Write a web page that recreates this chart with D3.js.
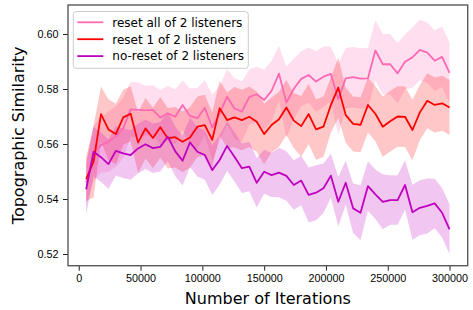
<!DOCTYPE html>
<html>
<head>
<meta charset="utf-8">
<script src="https://cdn.jsdelivr.net/npm/d3@7"></script>
<style>
  body { margin: 0; background: #fff; }
  svg { display: block; font-family: "DejaVu Sans", sans-serif; }
  .axis text { font-size: 10.8px; fill: #000; }
  .axis line { stroke: #222; }
</style>
</head>
<body>
<svg id="chart"></svg>
<script>
// iterations (x)
const iterations = [6000, 12000, 18000, 24000, 30000, 36000, 42000, 48000, 54000, 60000,
  66000, 72000, 78000, 84000, 90000, 96000, 102000, 108000, 114000, 120000,
  126000, 132000, 138000, 144000, 150000, 156000, 162000, 168000, 174000, 180000,
  186000, 192000, 198000, 204000, 210000, 216000, 222000, 228000, 234000, 240000,
  246000, 252000, 258000, 264000, 270000, 276000, 282000, 288000, 294000, 300000];

// reset all of 2 listeners
const resetAll = [0.5460, 0.5566, 0.5596, 0.5608, 0.5627, 0.5657, 0.5726, 0.5724, 0.5722, 0.5724,
  0.5696, 0.5712, 0.5699, 0.5742, 0.5702, 0.5694, 0.5732, 0.5660, 0.5710, 0.5772,
  0.5729, 0.5718, 0.5771, 0.5781, 0.5760, 0.5793, 0.5856, 0.5751, 0.5801, 0.5837,
  0.5851, 0.5827, 0.5845, 0.5855, 0.5763, 0.5839, 0.5843, 0.5838, 0.5839, 0.5940,
  0.5890, 0.5890, 0.5857, 0.5899, 0.5915, 0.5942, 0.5932, 0.5903, 0.5917, 0.5859];
const resetAllErr = [0.008, 0.010, 0.010, 0.011, 0.011, 0.011, 0.010, 0.010, 0.009, 0.009,
  0.010, 0.010, 0.010, 0.009, 0.010, 0.011, 0.010, 0.012, 0.010, 0.010,
  0.011, 0.011, 0.010, 0.010, 0.011, 0.011, 0.010, 0.013, 0.011, 0.010,
  0.010, 0.011, 0.011, 0.010, 0.013, 0.011, 0.011, 0.011, 0.011, 0.011,
  0.011, 0.011, 0.011, 0.010, 0.011, 0.011, 0.011, 0.011, 0.011, 0.011];

// reset 1 of 2 listeners
const resetOne = [0.5472, 0.5536, 0.5709, 0.5653, 0.5636, 0.5697, 0.5710, 0.5605, 0.5657, 0.5622,
  0.5661, 0.5621, 0.5625, 0.5608, 0.5624, 0.5663, 0.5669, 0.5615, 0.5730, 0.5687,
  0.5697, 0.5687, 0.5699, 0.5681, 0.5636, 0.5669, 0.5690, 0.5733, 0.5685, 0.5665,
  0.5709, 0.5653, 0.5663, 0.5742, 0.5805, 0.5705, 0.5673, 0.5670, 0.5742, 0.5710,
  0.5663, 0.5683, 0.5700, 0.5699, 0.5651, 0.5715, 0.5757, 0.5742, 0.5748, 0.5733];
const resetOneErr = [0.008, 0.013, 0.010, 0.011, 0.011, 0.010, 0.010, 0.011, 0.011, 0.011,
  0.011, 0.011, 0.011, 0.011, 0.011, 0.011, 0.011, 0.010, 0.010, 0.010,
  0.011, 0.011, 0.011, 0.011, 0.011, 0.010, 0.010, 0.010, 0.010, 0.011,
  0.011, 0.011, 0.011, 0.010, 0.011, 0.010, 0.010, 0.010, 0.010, 0.010,
  0.011, 0.011, 0.011, 0.011, 0.011, 0.010, 0.010, 0.010, 0.010, 0.010];

// no-reset of 2 listeners
const noReset = [0.5435, 0.5572, 0.5552, 0.5527, 0.5575, 0.5566, 0.5560, 0.5584, 0.5599, 0.5585,
  0.5590, 0.5627, 0.5574, 0.5539, 0.5606, 0.5572, 0.5560, 0.5505, 0.5542, 0.5593,
  0.5554, 0.5512, 0.5518, 0.5459, 0.5499, 0.5487, 0.5496, 0.5484, 0.5451, 0.5467,
  0.5415, 0.5423, 0.5439, 0.5485, 0.5390, 0.5459, 0.5366, 0.5350, 0.5447, 0.5417,
  0.5390, 0.5396, 0.5396, 0.5451, 0.5352, 0.5368, 0.5375, 0.5384, 0.5350, 0.5290];
const noResetErr = [0.009, 0.009, 0.009, 0.009, 0.009, 0.009, 0.009, 0.009, 0.009, 0.009,
  0.009, 0.009, 0.009, 0.009, 0.009, 0.009, 0.009, 0.009, 0.009, 0.009,
  0.009, 0.009, 0.009, 0.009, 0.008, 0.008, 0.009, 0.009, 0.009, 0.009,
  0.010, 0.010, 0.009, 0.008, 0.009, 0.008, 0.009, 0.010, 0.009, 0.009,
  0.010, 0.009, 0.009, 0.009, 0.010, 0.010, 0.010, 0.009, 0.009, 0.009];

const xTicks = [0, 50000, 100000, 150000, 200000, 250000, 300000];
const yTicks = [0.52, 0.54, 0.56, 0.58, 0.60];
const seriesNames = ["reset all of 2 listeners", "reset 1 of 2 listeners", "no-reset of 2 listeners"];
const seriesColors = ["#ff69b4", "#ff0000", "#bf00bf"];

const width = 473, height = 310;
const margin = {top: 5, right: 5.3, bottom: 44.3, left: 68};
const innerW = width - margin.left - margin.right;
const innerH = height - margin.top - margin.bottom;

const svg = d3.select("#chart").attr("width", width).attr("height", height);
const chart = svg.append("g").attr("transform", `translate(${margin.left},${margin.top})`);

const x = d3.scaleLinear().domain([-8700, 314700]).range([0, innerW]);
const y = d3.scaleLinear().domain([0.51575, 0.61055]).range([innerH, 0]);

const series = [
  {name: seriesNames[0], color: seriesColors[0], mean: resetAll, err: resetAllErr},
  {name: seriesNames[1], color: seriesColors[1], mean: resetOne, err: resetOneErr},
  {name: seriesNames[2], color: seriesColors[2], mean: noReset, err: noResetErr}
];

svg.append("defs").append("clipPath").attr("id", "clip")
  .append("rect").attr("width", innerW).attr("height", innerH);

const plot = chart.append("g").attr("clip-path", "url(#clip)");

const area = d3.area()
  .x((d, i) => x(iterations[i]))
  .y0(d => y(d[0] - d[1]))
  .y1(d => y(d[0] + d[1]));

const line = d3.line()
  .x((d, i) => x(iterations[i]))
  .y(d => y(d));

// bands first (like matplotlib's zorder), then the lines
series.forEach(s => {
  plot.append("path")
    .datum(s.mean.map((m, i) => [m, s.err[i]]))
    .attr("d", area)
    .attr("fill", s.color)
    .attr("fill-opacity", 0.22)
    .attr("stroke", "none");
});
series.forEach(s => {
  plot.append("path")
    .datum(s.mean)
    .attr("d", line)
    .attr("fill", "none")
    .attr("stroke", s.color)
    .attr("stroke-width", 1.8)
    .attr("stroke-linejoin", "round");
});

// axes
const xAxisG = chart.append("g").attr("class", "axis")
  .attr("transform", `translate(0,${innerH})`)
  .call(d3.axisBottom(x).tickValues(xTicks).tickFormat(d3.format("d")).tickSize(5).tickPadding(4));
const yAxisG = chart.append("g").attr("class", "axis")
  .call(d3.axisLeft(y).tickValues(yTicks).tickFormat(d3.format(".2f")).tickSize(5).tickPadding(4.5));
xAxisG.select(".domain").remove();
yAxisG.select(".domain").remove();

// frame
chart.append("rect")
  .attr("width", innerW).attr("height", innerH)
  .attr("fill", "none").attr("stroke", "#5a5a5a").attr("stroke-width", 1.4);

// axis labels
svg.append("text")
  .attr("x", margin.left + innerW / 2).attr("y", 303.5)
  .attr("text-anchor", "middle").attr("font-size", 16)
  .text("Number of Iterations");
svg.append("text")
  .attr("transform", `translate(24,${margin.top + innerH / 2}) rotate(-90)`)
  .attr("text-anchor", "middle").attr("font-size", 16)
  .text("Topographic Similarity");

// legend
const legend = chart.append("g").attr("transform", "translate(5.3,6.5)");
legend.append("rect")
  .attr("width", 175).attr("height", 56.8).attr("rx", 3)
  .attr("fill", "#fff").attr("fill-opacity", 0.8)
  .attr("stroke", "#cccccc").attr("stroke-width", 1);
series.forEach((s, i) => {
  const row = legend.append("g").attr("transform", `translate(0,${10.8 + i * 16.9})`);
  row.append("line").attr("x1", 4).attr("x2", 30)
    .attr("stroke", s.color).attr("stroke-width", 1.8);
  row.append("text").attr("x", 39).attr("y", 4.3)
    .attr("font-size", 12).text(s.name);
});
</script>
</body>
</html>
